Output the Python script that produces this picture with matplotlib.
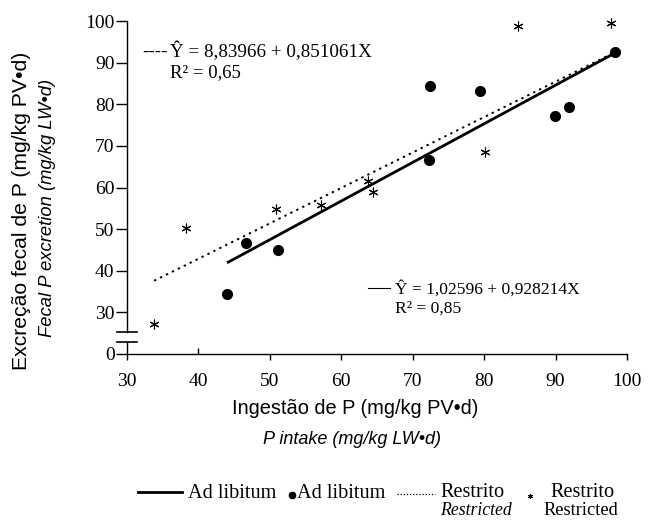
import matplotlib
matplotlib.use("Agg")
import matplotlib.pyplot as plt
import matplotlib.lines as mlines

# Ad libitum (circles)
adlib_x = [44.0, 46.7, 51.1, 72.3, 72.4, 79.4, 89.9, 91.9, 98.3]
adlib_y = [34.3, 46.6, 45.0, 66.7, 84.4, 83.3, 77.1, 79.4, 92.6]

# Restrito (stars)
restr_x = [33.8, 38.3, 50.9, 57.2, 63.7, 64.4, 80.1, 84.7, 97.8]
restr_y = [27.3, 50.3, 54.9, 55.8, 61.6, 58.8, 68.5, 98.7, 99.4]

# fitted lines, end points
adlib_fit_x = [44.0, 98.3]
adlib_fit_y = [41.9, 92.3]
restr_fit_x = [33.8, 98.3]
restr_fit_y = [37.6, 92.5]

x_ticks = [30, 40, 50, 60, 70, 80, 90, 100]
y_ticks = [20, 30, 40, 50, 60, 70, 80, 90, 100]   # 20 is shown as "0" (broken axis)
y_tick_labels = ["0", "30", "40", "50", "60", "70", "80", "90", "100"]

serif = "Liberation Serif"
sans = "Liberation Sans"

W, H = 649, 520
fig = plt.figure(figsize=(W / 100, H / 100), dpi=100)

# overlay in pixel coords for free text / legend
ov = fig.add_axes([0, 0, 1, 1])
ov.set_xlim(0, W)
ov.set_ylim(H, 0)
ov.axis("off")

ax = fig.add_axes([127 / W, 1 - 354 / H, 500 / W, 333 / H])
ax.set_facecolor("none")

ax.plot(adlib_fit_x, adlib_fit_y, color="black", lw=2, solid_capstyle="butt")
ax.plot(restr_fit_x, restr_fit_y, color="black", lw=1.4, linestyle=(0, (1.2, 2.2)))
ax.plot(adlib_x, adlib_y, "o", color="black", ms=7, clip_on=False)
ax.plot(restr_x, restr_y, linestyle="none", marker=(6, 2, 0), color="black",
        ms=7, mew=0.8, clip_on=False)

ax.set_xlim(30, 100)
ax.set_ylim(20, 100)
ax.set_xticks(x_ticks)
ax.set_yticks(y_ticks)
ax.set_yticklabels(y_tick_labels)
for lab in ax.get_xticklabels() + ax.get_yticklabels():
    lab.set_fontfamily(serif)
    lab.set_fontsize(14)
ax.tick_params(axis="x", direction="out", length=4, width=1, pad=10)
ax.tick_params(axis="y", direction="out", length=8, width=1, pad=1)

# the tick at 40 points up into the plot in the original
ax.xaxis.get_major_ticks()[1].tick1line.set_marker(mlines.TICKUP)

for s in ["top", "right", "left"]:
    ax.spines[s].set_visible(False)
ax.spines["bottom"].set_linewidth(1)

# broken y axis
ax.plot([30, 30], [20, 22.9], color="black", lw=1, clip_on=False)
ax.plot([30, 30], [25.3, 100], color="black", lw=1, clip_on=False)
ax.plot([28.6, 31.4], [22.9, 22.9], color="black", lw=1.2, clip_on=False)
ax.plot([28.6, 31.4], [25.3, 25.3], color="black", lw=1.2, clip_on=False)

# axis titles
ov.text(22, 211, "Excreção fecal de P (mg/kg PV•d)", rotation=90, ha="center",
        va="center", fontfamily=sans, fontsize=15.2)
ov.text(48, 208, "Fecal P excretion (mg/kg LW•d)", rotation=90, ha="center",
        va="center", fontfamily=sans, fontsize=13.2, style="italic")
ov.text(355, 408, "Ingestão de P (mg/kg PV•d)", ha="center", va="center",
        fontfamily=sans, fontsize=14.4)
ov.text(352, 440, "P intake (mg/kg LW•d)", ha="center", va="center",
        fontfamily=sans, fontsize=13, style="italic")

# equations
ov.text(142, 57, "----", fontfamily=serif, fontsize=13.7, va="baseline")
ov.text(170, 57, "Ŷ = 8,83966 + 0,851061X", fontfamily=serif, fontsize=13.7,
        va="baseline")
ov.text(170, 77, "R² = 0,65", fontfamily=serif, fontsize=13.5, va="baseline")
ov.plot([368, 390], [288, 288], color="black", lw=0.8)
ov.text(395, 294, "Ŷ = 1,02596 + 0,928214X", fontfamily=serif, fontsize=12.6,
        va="baseline")
ov.text(395, 313, "R² = 0,85", fontfamily=serif, fontsize=12.6, va="baseline")

# legend
ov.plot([138, 182], [492, 492], color="black", lw=2)
ov.text(188, 498, "Ad libitum", fontfamily=serif, fontsize=14.6, va="baseline")
ov.plot([292], [495], "o", color="black", ms=4.5)
ov.text(297, 498, "Ad libitum", fontfamily=serif, fontsize=14.6, va="baseline")
ov.plot([397, 435], [494, 494], color="black", lw=0.9, linestyle=(0, (1, 1.5)))
ov.text(440, 497, "Restrito", fontfamily=serif, fontsize=14.6, va="baseline")
ov.text(440, 515, "Restricted", fontfamily=serif, fontsize=12.8, style="italic",
        va="baseline")
ov.plot([530], [496], linestyle="none", marker=(6, 2, 0), color="black", ms=3.5, mew=0.8)
ov.text(550, 497, "Restrito", fontfamily=serif, fontsize=14.6, va="baseline")
ov.text(543, 515, "Restricted", fontfamily=serif, fontsize=13.2, va="baseline")

fig.savefig("out.png", dpi=100)
